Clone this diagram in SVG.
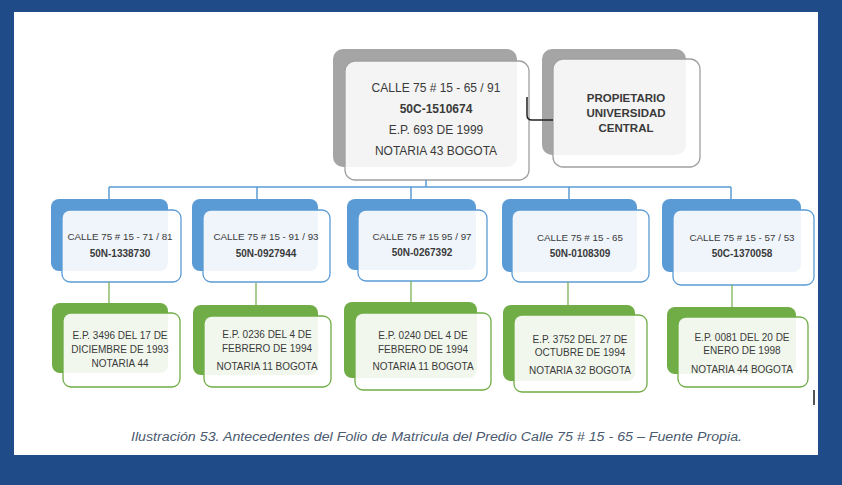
<svg xmlns="http://www.w3.org/2000/svg" width="842" height="485" viewBox="0 0 842 485">
<defs>
<style>
text{font-family:"Liberation Sans",Arial,sans-serif;fill:#3a3a3a;text-anchor:middle}
.gb{fill:#a5a5a5}
.gf{fill:#ffffff;fill-opacity:0.88;stroke:#a0a0a0;stroke-width:1.3}
.bb{fill:#5b9bd5}
.bf{fill:#ffffff;fill-opacity:0.9;stroke:#5b9bd5;stroke-width:1.3}
.nb{fill:#70ad47}
.nf{fill:#ffffff;fill-opacity:0.9;stroke:#70ad47;stroke-width:1.3}
.t12{font-size:12px}
.t12b{font-size:12px;font-weight:bold}
.tr{font-size:11.5px;font-weight:bold}
.tb{font-size:9.8px}
.tbb{font-size:10px;font-weight:bold}
.tg{font-size:10px}
.lb{fill:none;stroke:#5b9bd5;stroke-width:1.5}
.lg{fill:none;stroke:#70ad47;stroke-width:1.2}
.lk{fill:none;stroke:#222;stroke-width:1.5}
.cap{font-size:12.5px;font-style:italic;fill:#4a5a70;text-anchor:start}
</style>
</defs>
<rect x="0" y="0" width="842" height="485" fill="#1f4b89"/>
<rect x="14" y="12" width="804" height="443" fill="#ffffff"/>

<g id="main">
<rect class="gb" x="333" y="49" width="184" height="118" rx="10"/>
<rect class="gf" x="345" y="61" width="184" height="119" rx="10"/>
<text class="t12" x="436" y="92">CALLE 75 # 15 - 65 / 91</text>
<text class="t12b" x="436" y="113">50C-1510674</text>
<text class="t12" x="436" y="134">E.P. 693 DE 1999</text>
<text class="t12" x="436" y="155">NOTARIA 43 BOGOTA</text>
</g>

<g id="owner">
<rect class="gb" x="542" y="49" width="144" height="106" rx="10"/>
<rect class="gf" x="553" y="59" width="147" height="108" rx="10"/>
<text class="tr" x="626" y="102">PROPIETARIO</text>
<text class="tr" x="626" y="117">UNIVERSIDAD</text>
<text class="tr" x="626" y="132">CENTRAL</text>
</g>

<g id="b1">
<rect class="bb" x="51" y="199" width="117" height="72" rx="8"/>
<rect class="bf" x="62" y="210" width="119" height="72" rx="8"/>
<text class="tb" x="120" y="240">CALLE 75 # 15 - 71 / 81</text>
<text class="tbb" x="120" y="257">50N-1338730</text>
</g>
<g id="b2">
<rect class="bb" x="192" y="199" width="126" height="72" rx="8"/>
<rect class="bf" x="203" y="210" width="127" height="72" rx="8"/>
<text class="tb" x="266" y="240">CALLE 75 # 15 - 91 / 93</text>
<text class="tbb" x="266" y="257">50N-0927944</text>
</g>
<g id="b3">
<rect class="bb" x="347" y="199" width="129" height="71" rx="8"/>
<rect class="bf" x="358" y="210" width="129" height="71" rx="8"/>
<text class="tb" x="422" y="240">CALLE 75 # 15 95 / 97</text>
<text class="tbb" x="422" y="256">50N-0267392</text>
</g>
<g id="b4">
<rect class="bb" x="502" y="199" width="135" height="73" rx="8"/>
<rect class="bf" x="512" y="210" width="137" height="72" rx="8"/>
<text class="tb" x="580" y="241">CALLE 75 # 15 - 65</text>
<text class="tbb" x="580" y="257">50N-0108309</text>
</g>
<g id="b5">
<rect class="bb" x="662" y="199" width="139" height="73" rx="8"/>
<rect class="bf" x="673" y="210" width="141" height="75" rx="8"/>
<text class="tb" x="742" y="241">CALLE 75 # 15 - 57 / 53</text>
<text class="tbb" x="742" y="257">50C-1370058</text>
</g>

<g id="g1">
<rect class="nb" x="52" y="303" width="116" height="70" rx="8"/>
<rect class="nf" x="63" y="313" width="117" height="74" rx="8"/>
<text class="tg" x="120" y="339">E.P. 3496 DEL 17 DE</text>
<text class="tg" x="120" y="353">DICIEMBRE DE 1993</text>
<text class="tg" x="120" y="367">NOTARIA 44</text>
</g>
<g id="g2">
<rect class="nb" x="193" y="305" width="125" height="70" rx="8"/>
<rect class="nf" x="204" y="316" width="127" height="71" rx="8"/>
<text class="tg" x="267" y="338">E.P. 0236 DEL 4 DE</text>
<text class="tg" x="267" y="352">FEBRERO DE 1994</text>
<text class="tg" x="267" y="370">NOTARIA 11 BOGOTA</text>
</g>
<g id="g3">
<rect class="nb" x="344" y="302" width="133" height="76" rx="8"/>
<rect class="nf" x="355" y="313" width="136" height="77" rx="8"/>
<text class="tg" x="423" y="339">E.P. 0240 DEL 4 DE</text>
<text class="tg" x="423" y="353">FEBRERO DE 1994</text>
<text class="tg" x="423" y="370">NOTARIA 11 BOGOTA</text>
</g>
<g id="g4">
<rect class="nb" x="503" y="305" width="132" height="76" rx="8"/>
<rect class="nf" x="514" y="315" width="133" height="77" rx="8"/>
<text class="tg" x="580" y="343">E.P. 3752 DEL 27 DE</text>
<text class="tg" x="580" y="356">OCTUBRE DE 1994</text>
<text class="tg" x="580" y="374">NOTARIA 32 BOGOTA</text>
</g>
<g id="g5">
<rect class="nb" x="667" y="307" width="129" height="67" rx="8"/>
<rect class="nf" x="678" y="317" width="130" height="70" rx="8"/>
<text class="tg" x="742" y="341">E.P. 0081 DEL 20 DE</text>
<text class="tg" x="742" y="354">ENERO DE 1998</text>
<text class="tg" x="742" y="373">NOTARIA 44 BOGOTA</text>
</g>

<g id="connectors">
<path class="lb" d="M426,180 V187 M109,187 H731 M109,187 V199 M257,187 V199 M411,187 V199 M569,187 V199 M731,187 V199"/>
<path class="lg" d="M109,282 V303 M256,283 V305 M411,281 V302 M568,282 V305 M732,285 V307"/>
<path class="lk" d="M527,97 V115 Q527,120 532,120 H553"/>
</g>

<line x1="814" y1="390" x2="814" y2="405" stroke="#555" stroke-width="2"/>
<text class="cap" x="131" y="441" textLength="611" lengthAdjust="spacingAndGlyphs">Ilustración 53. Antecedentes del Folio de Matricula del Predio Calle 75 # 15 - 65 – Fuente Propia.</text>
</svg>
